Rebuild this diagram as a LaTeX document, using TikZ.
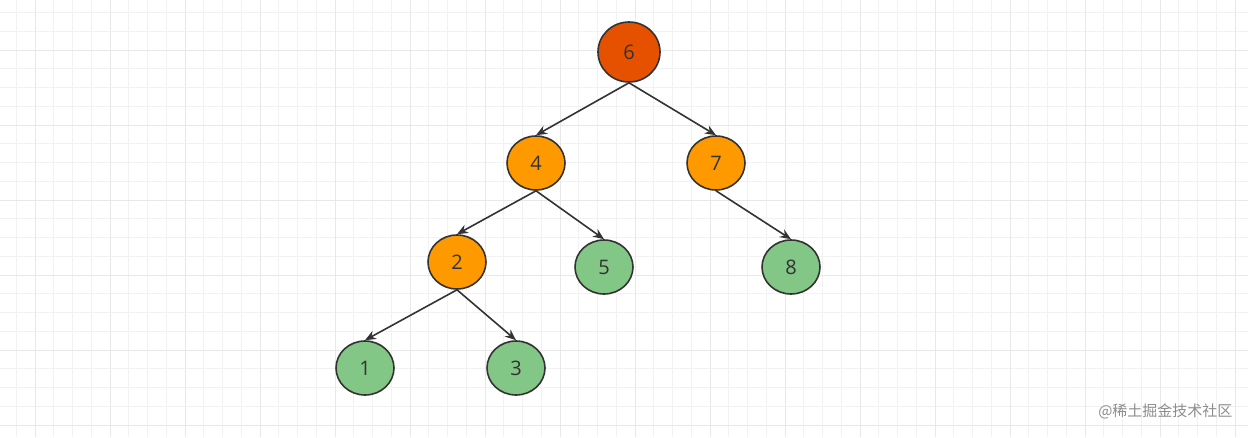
\documentclass[tikz,border=0pt]{standalone}
\usepackage{fontspec}
\setmainfont{Open Sans}
\newfontfamily\cjk{Noto Sans CJK SC}
\usetikzlibrary{arrows.meta,shapes.geometric}
\definecolor{red6}{HTML}{E65100}
\definecolor{orn}{HTML}{FF9900}
\definecolor{grn}{HTML}{82C785}
\definecolor{edge}{HTML}{333333}
\begin{document}
\begin{tikzpicture}[x=1pt,y=-1pt,
  nd/.style={ellipse,draw=edge,line width=1.6pt,minimum width=58pt,minimum height=54pt,inner sep=0pt,font=\fontsize{20}{20}\selectfont,text=edge},
  ed/.style={draw=edge,line width=1.6pt,-{Stealth[length=11pt,width=9pt]}}]
\path[use as bounding box] (0,0) rectangle (1248,437);
\foreach \x in {0,...,67} \draw[black!5,line width=0.6pt] ({\x*18.75-2.5},0) -- ({\x*18.75-2.5},437);
\foreach \y in {0,...,23} \draw[black!5,line width=0.6pt] (0,{\y*18.75-6.25}) -- (1248,{\y*18.75-6.25});
\foreach \x in {0,...,16} \draw[black!9,line width=0.8pt] ({\x*75+35},0) -- ({\x*75+35},437);
\foreach \y in {0,...,5} \draw[black!9,line width=0.8pt] (0,{\y*75+50}) -- (1248,{\y*75+50});
\node[nd,fill=red6,minimum width=62pt,minimum height=60pt] (n6) at (629,52) {6};
\node[nd,fill=orn] (n4) at (536,163) {4};
\node[nd,fill=orn] (n7) at (716,163) {7};
\node[nd,fill=orn] (n2) at (457,262) {2};
\node[nd,fill=grn] (n5) at (604,267) {5};
\node[nd,fill=grn] (n8) at (791,267) {8};
\node[nd,fill=grn] (n1) at (365,368) {1};
\node[nd,fill=grn] (n3) at (516,368) {3};
\draw[ed] (n6.south) -- (n4.north);
\draw[ed] (n6.south) -- (n7.north);
\draw[ed] (n4.south) -- (n2.north);
\draw[ed] (n4.south) -- (n5.north);
\draw[ed] (n7.south) -- (n8.north);
\draw[ed] (n2.south) -- (n1.north);
\draw[ed] (n2.south) -- (n3.north);
\node[anchor=east,text=black!45,font=\cjk\fontsize{15}{15}\selectfont] (wm) at (1236,411) {@稀土掘金技术社区};
\end{tikzpicture}
\end{document}
